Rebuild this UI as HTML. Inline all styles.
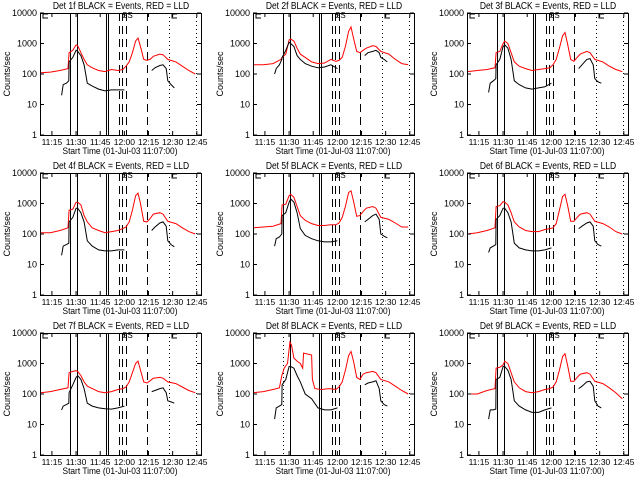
<!DOCTYPE html>
<html><head><meta charset="utf-8"><style>
body{margin:0;background:#fff}
svg{display:block}
text{font-family:"Liberation Sans",sans-serif;fill:#000}
</style></head><body>
<svg id="chart" width="640" height="480" xmlns="http://www.w3.org/2000/svg">
<rect width="640" height="480" fill="#fff"/>
</svg>
<script>
// time in minutes after 11:00
const TR = [8,14,20,25,25.7,28,30,31,33,35,37,40,44,48,52,56,59,61,63,65,67,68.5,70,72,74,76,78,82,84,87,92,96,100,104];
const TR8 = [8,14,20,24,25.5,27,29,30.5,31.5,33,35,37,38.5,39,44,44.5,46,50,55,59,61,63,65,67,68.5,70,72,74,76,78,82,84,87,92,96,100,104];
const TB = [21,22,24,25.5,25.7,28,30,31,33,35,37,40,44,48,52,56,60,70,77,79,82,84,86,87,89,91];
const red1 = [110,115,130,150,500,600,900,850,500,300,200,160,130,120,140,130,140,180,250,500,1200,1500,800,300,280,300,380,450,430,300,250,180,130,100];
const red2 = [200,200,220,300,350,450,1300,1400,1200,700,450,350,250,220,230,300,260,280,350,800,2500,3500,1500,550,500,600,700,850,800,550,450,300,220,200];
const red3 = [120,130,140,160,500,550,1000,1200,1000,500,250,180,150,130,140,150,160,200,300,700,1800,2300,1000,300,260,350,450,550,500,300,250,180,140,120];
const red4 = [110,110,130,160,600,650,1100,1100,900,400,250,160,130,110,120,130,150,170,250,600,1800,2200,1000,260,250,320,450,500,450,260,220,160,120,100];
const red5 = [160,170,180,220,900,950,1800,2000,1600,800,400,280,220,190,190,200,200,230,350,800,2300,2600,1200,380,400,550,700,800,700,350,300,230,170,170];
const red6 = [100,110,130,160,800,850,1150,1100,900,500,250,170,130,120,120,140,150,160,220,600,1700,2000,900,260,260,350,450,500,450,260,220,170,120,100];
const red7 = [110,120,140,160,500,550,580,550,400,250,180,150,120,110,120,140,150,170,250,500,1000,1200,600,250,230,270,330,350,330,250,220,170,130,110];
const red8 = [110,120,140,160,400,700,1000,5000,4000,1500,1200,1000,700,2200,1900,300,150,140,150,140,170,250,600,1800,2500,1200,350,300,450,500,550,500,300,250,180,130,100];
const red9 = [100,100,130,150,700,750,900,1200,1000,500,250,160,120,110,120,140,150,170,250,600,1700,2100,900,260,260,350,450,500,450,260,220,160,110,70];
const blk1 = [20,45,50,60,250,350,600,550,400,200,50,40,32,28,30,30,30,null,130,160,190,200,150,60,45,35];
const blk2 = [100,150,200,300,350,600,1100,1000,800,400,300,220,180,160,170,200,150,null,400,500,550,600,500,350,300,250];
const blk3 = [25,50,60,70,200,300,800,900,700,300,60,45,35,32,35,38,50,null,150,200,300,320,200,70,55,50];
const blk4 = [20,40,45,50,250,350,700,700,500,250,60,40,30,28,28,30,30,null,130,170,230,250,180,60,45,38];
const blk5 = [40,70,80,100,400,500,1100,1400,1100,500,150,90,70,60,55,55,60,null,250,300,400,450,300,100,85,75];
const blk6 = [25,35,40,45,300,400,700,700,500,250,50,35,30,28,28,30,35,null,150,180,230,250,180,60,45,40];
const blk7 = [30,40,45,50,110,200,350,400,300,150,50,40,35,33,32,35,40,null,120,130,150,160,110,60,55,50];
const blk8 = [15,35,40,45,200,300,800,800,700,400,250,100,70,35,30,30,35,null,200,230,250,270,150,60,45,40];
const blk9 = [15,30,30,32,300,350,800,800,600,300,60,40,30,25,25,30,35,null,150,180,250,260,180,60,40,35];
const markerTimes = [26.2,30.6,48.4,50.0,56.7,58.5,61,74.1,87.7,104.5];
const markerStyles = ['solid','solid','solid','solid','dash','dash','dash','dash','dot','dot'];
const xTickMin = [15,30,45,60,75,90,105];
const xTickLabels = ['11:15','11:30','11:45','12:00','12:15','12:30','12:45'];
const yTickVals = [1,10,100,1000,10000];
const yTickLabels = ['1','10','100','1000','10000'];

const reds=[red1,red2,red3,red4,red5,red6,red7,red8,red9];
const blks=[blk1,blk2,blk3,blk4,blk5,blk6,blk7,blk8,blk9];
const NS='http://www.w3.org/2000/svg';
const svg=document.getElementById('chart');
function mk(tag,attrs,parent){const e=document.createElementNS(NS,tag);for(const k in attrs)e.setAttribute(k,attrs[k]);parent.appendChild(e);return e;}

for(let i=0;i<9;i++){
  const col=i%3,row=Math.floor(i/3);
  const L=Math.round(col*213.3)+40, R=L+161, T=row*160+13, B=T+122;
  const xs=t=>L+(t-7.6)*1.61;
  const ys=v=>B-(Math.log10(v))*(122/4);
  const g=mk('g',{},svg);
  
  
  for(let k=0;k<markerTimes.length;k++){
    let st=markerStyles[k];
    if(i===7&&k===0)st='dot';
    const x=Math.round(xs(markerTimes[k]))+0.5;
    const a={x1:x,x2:x,y1:T,y2:B,stroke:'#000','stroke-width':1};
    if(st==='dash')a['stroke-dasharray']='8,5';
    if(st==='dot')a['stroke-dasharray']='1,3';
    const ln=mk('line',a,g);
    
    
  }
  const tr=i===7?TR8:TR;
  const rp=reds[i].map((v,j)=>xs(tr[j]).toFixed(1)+','+ys(v).toFixed(1)).join(' ');
  const rl=mk('polyline',{points:rp,fill:'none',stroke:'#ff0000','stroke-width':1},g);
  
  
  let seg=[];const segs=[];
  blks[i].forEach((v,j)=>{if(v===null){if(seg.length)segs.push(seg);seg=[];}else seg.push(xs(TB[j]).toFixed(1)+','+ys(v).toFixed(1));});
  if(seg.length)segs.push(seg);
  segs.forEach(s=>{const bl=mk('polyline',{points:s.join(' '),fill:'none',stroke:'#000','stroke-width':1},g);
    
    });
  const fr=mk('rect',{x:L+0.5,y:T+0.5,width:R-L,height:B-T,fill:'none',stroke:'#000','stroke-width':1},g);
  
  
  mk('path',{d:`M${L+8},${T+1} L${L+3},${T+1} L${L+3},${T+5} L${L+8},${T+5} M${L+137},${T+1} L${L+132},${T+1} L${L+132},${T+5} L${L+137},${T+5}`,fill:'none',stroke:'#000'},g);
  const dec=mk('text',{x:L+82,y:T+5,'font-size':8},g);dec.textContent='SS';
  
  
  yTickVals.forEach((v,j)=>{
    const y=ys(v);
    mk('line',{x1:L,x2:L+4,y1:y,y2:y,stroke:'#000'},g);
    mk('line',{x1:R,x2:R-4,y1:y,y2:y,stroke:'#000'},g);
    const t=mk('text',{x:L-3,y:y+3,'font-size':9,'text-anchor':'end'},g);
    t.textContent=yTickLabels[j];
    
    
  });
  xTickMin.forEach((m,j)=>{
    const x=xs(m);
    mk('line',{x1:x,x2:x,y1:B,y2:B-4,stroke:'#000'},g);
    mk('line',{x1:x,x2:x,y1:T,y2:T+4,stroke:'#000'},g);
    const t=mk('text',{x:x,y:B+10,'font-size':8.5,'text-anchor':'middle'},g);
    t.textContent=xTickLabels[j];
    
    
  });
  const tg=mk('g',{transform:`translate(${L+81},${T-4}) scale(0.85,1)`},g);
  const tt=mk('text',{x:0,y:0,'font-size':10,'text-anchor':'middle'},tg);
  tt.textContent='Det '+(i+1)+'f BLACK = Events, RED = LLD';
  
  
  const xg=mk('g',{transform:`translate(${L+80},${B+19}) scale(0.88,1)`},g);
  const xt=mk('text',{x:0,y:0,'font-size':9.5,'text-anchor':'middle'},xg);
  xt.textContent='Start Time (01-Jul-03 11:07:00)';
  
  
  const yx=L-30,yy=(T+B)/2;
  const yt=mk('text',{x:yx,y:yy,'font-size':9,'text-anchor':'middle',transform:`rotate(-90 ${yx} ${yy})`},g);
  yt.textContent='Counts/sec';
  
  
}
</script>
</body></html>
